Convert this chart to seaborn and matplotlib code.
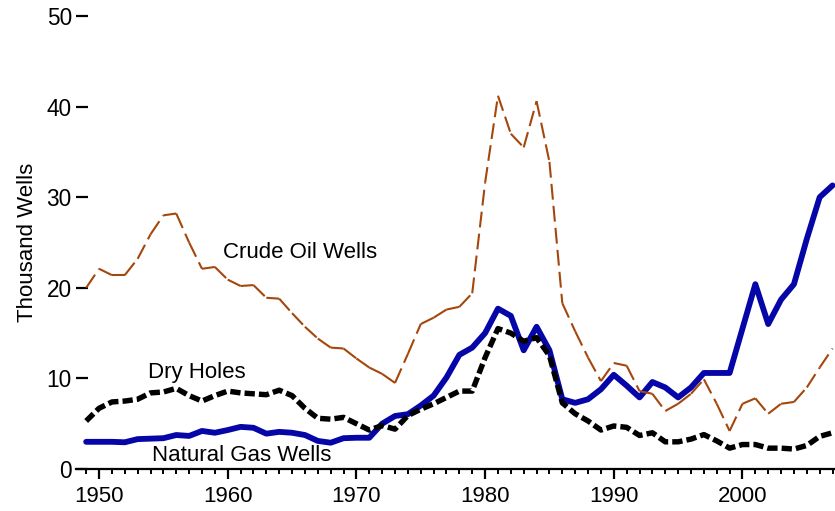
import matplotlib
matplotlib.use("Agg")
import matplotlib.pyplot as plt
from matplotlib.collections import LineCollection
from matplotlib.ticker import MultipleLocator, FixedLocator
import numpy as np
import pandas as pd
import seaborn as sns

# ---- data (thousand wells) ----
years = list(range(1949, 2008))

crude_oil = [20.0, 22.1, 21.4, 21.4, 23.2, 25.9, 28.0, 28.2, 25.0, 22.1,
             22.3, 20.9, 20.2, 20.3, 18.9, 18.8, 17.2, 15.7, 14.4, 13.4,
             13.3, 12.2, 11.2, 10.5, 9.5, 12.7, 16.0, 16.7, 17.6, 17.9,
             19.4, 31.6, 41.2, 37.0, 35.5, 40.6, 33.9, 18.3, 15.2, 12.3,
             9.7, 11.7, 11.4, 8.6, 8.3, 6.4, 7.2, 8.3, 9.9, 7.2,
             4.2, 7.2, 7.8, 6.1, 7.2, 7.4, 9.0, 11.2, 13.3]

natural_gas = [3.0, 3.0, 3.0, 2.95, 3.3, 3.35, 3.4, 3.75, 3.65, 4.2,
               4.0, 4.3, 4.65, 4.55, 3.9, 4.1, 4.0, 3.75, 3.1, 2.9,
               3.4, 3.45, 3.45, 5.0, 5.85, 6.05, 7.0, 8.1, 10.1, 12.6,
               13.4, 15.0, 17.7, 16.9, 13.1, 15.7, 13.1, 7.7, 7.3, 7.7,
               8.8, 10.4, 9.2, 7.9, 9.6, 9.0, 7.9, 9.0, 10.6, 10.6,
               10.6, 15.5, 20.4, 16.0, 18.7, 20.4, 25.4, 30.0, 31.3]

dry_holes = [5.3, 6.7, 7.4, 7.5, 7.7, 8.4, 8.5, 8.9, 8.1, 7.5,
             8.1, 8.6, 8.4, 8.3, 8.2, 8.7, 8.1, 6.7, 5.6, 5.5,
             5.7, 5.0, 4.3, 4.8, 4.4, 5.9, 6.6, 7.2, 7.9, 8.6,
             8.6, 12.3, 15.5, 15.0, 14.1, 14.5, 12.5, 7.3, 6.1, 5.3,
             4.3, 4.75, 4.6, 3.7, 4.0, 3.0, 3.0, 3.3, 3.8, 3.1,
             2.3, 2.7, 2.7, 2.3, 2.3, 2.2, 2.6, 3.6, 4.0]

series_labels = ["Crude Oil Wells", "Dry Holes", "Natural Gas Wells"]
y_ticks = [0, 10, 20, 30, 40, 50]
x_ticks = [1950, 1960, 1970, 1980, 1990, 2000]

df = pd.DataFrame({"year": years, "crude": crude_oil,
                   "gas": natural_gas, "dry": dry_holes})

sns.set_theme(style="white")
plt.rcParams["font.family"] = ["Liberation Sans", "DejaVu Sans"]
plt.rcParams["text.color"] = "black"
plt.rcParams["axes.labelcolor"] = "black"
plt.rcParams["xtick.color"] = "black"
plt.rcParams["ytick.color"] = "black"

fig = plt.figure(figsize=(8.35, 5.11), dpi=100)
ax = fig.add_axes([76 / 835, 42 / 511, 759 / 835, 453 / 511])

OIL = "#A4470C"
GAS = "#0505A8"

sns.lineplot(data=df, x="year", y="gas", ax=ax, color=GAS, lw=4.2,
             solid_joinstyle="round", solid_capstyle="round", zorder=3)
sns.lineplot(data=df, x="year", y="dry", ax=ax, color="black", lw=3.9,
             dashes=False, zorder=4)
ax.lines[-1].set_dashes((1.9, 0.75))

# crude oil: dash pattern restarts on each year-to-year segment
pts = np.column_stack([df["year"].values, df["crude"].values])
segs = np.stack([pts[:-1], pts[1:]], axis=1)
lc = LineCollection(segs, colors=OIL, linewidths=1.5,
                    linestyles=[(0, (7.6, 3.0))], zorder=5, capstyle="butt")
ax.add_collection(lc)

ax.set_xlim(1948.21, 2007.19)
ax.set_ylim(0, 50)

ax.set_xlabel("")
ax.set_ylabel("Thousand Wells", fontsize=16, color="black")
ax.yaxis.set_label_coords(-0.05, 0.5)

for s in ["top", "right", "left"]:
    ax.spines[s].set_visible(False)
ax.spines["bottom"].set_linewidth(1.6)
ax.spines["bottom"].set_color("black")

ax.yaxis.set_major_locator(FixedLocator(y_ticks))
ax.xaxis.set_major_locator(FixedLocator(x_ticks))
ax.xaxis.set_minor_locator(MultipleLocator(1))
ax.tick_params(axis="y", which="major", direction="in", length=8.6, width=1.6,
               color="black", labelcolor="black", labelsize=16.3, pad=3,
               left=True)
ax.tick_params(axis="x", which="major", direction="out", length=7.5, width=1.6,
               color="black", labelcolor="black", labelsize=16, pad=5,
               bottom=True)
ax.tick_params(axis="x", which="minor", direction="out", length=3.8, width=1.4,
               color="black", bottom=True)
ax.grid(False)

ax.text(1959.63, 23.9, series_labels[0], fontsize=16, ha="left", va="center",
        color="black")
ax.text(1953.8, 10.66, series_labels[1], fontsize=16, ha="left", va="center",
        color="black")
ax.text(1954.1, 1.44, series_labels[2], fontsize=16, ha="left", va="center",
        color="black")

fig.savefig("out.png", dpi=100)
